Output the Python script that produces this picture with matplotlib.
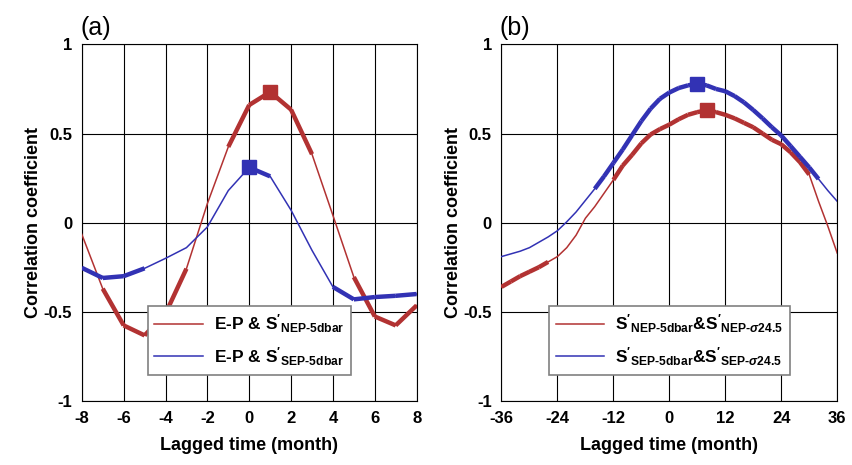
import matplotlib
matplotlib.use("Agg")
import matplotlib.pyplot as plt
import numpy as np

plt.rcParams['font.family'] = ['Liberation Sans', 'DejaVu Sans']
plt.rcParams['axes.unicode_minus'] = False
plt.rcParams['mathtext.fontset'] = 'custom'
plt.rcParams['mathtext.rm'] = 'Liberation Sans:bold'
plt.rcParams['mathtext.bf'] = 'Liberation Sans:bold'
plt.rcParams['mathtext.it'] = 'Liberation Sans:italic:bold'
plt.rcParams['mathtext.sf'] = 'Liberation Sans:bold'

RED = '#B23232'
BLUE = '#3232B4'

# panel (a): E-P vs surface salinity, lag in months
lag_a = [-8, -7, -6, -5, -4, -3, -2, -1, 0, 1, 2, 3, 4, 5, 6, 7, 8]
nep_a = [-0.065, -0.37, -0.576, -0.632, -0.51, -0.258, 0.107, 0.425, 0.66, 0.733,
         0.634, 0.384, 0.041, -0.305, -0.526, -0.576, -0.464]
sep_a = [-0.253, -0.31, -0.30, -0.256, -0.20, -0.14, -0.024, 0.18, 0.31, 0.26,
         0.07, -0.155, -0.36, -0.43, -0.417, -0.41, -0.40]
thr_a = 0.25

# panel (b): 5dbar vs sigma24.5 salinity
lag_b = list(range(-36, 37, 2))
nep_b = [-0.36, -0.33, -0.30, -0.275, -0.25, -0.22, -0.19, -0.14, -0.07, 0.025,
         0.09, 0.165, 0.24, 0.32, 0.38, 0.445, 0.495, 0.525, 0.55, 0.58,
         0.605, 0.62, 0.63, 0.62, 0.605, 0.585, 0.56, 0.535, 0.50, 0.465,
         0.44, 0.395, 0.34, 0.27, 0.12, -0.02, -0.17]
sep_b = [-0.19, -0.175, -0.16, -0.14, -0.11, -0.08, -0.045, 0.005, 0.06, 0.125,
         0.19, 0.26, 0.335, 0.41, 0.49, 0.57, 0.64, 0.695, 0.73, 0.755,
         0.77, 0.78, 0.77, 0.75, 0.737, 0.71, 0.675, 0.632, 0.585, 0.535,
         0.489, 0.43, 0.37, 0.31, 0.245, 0.18, 0.12]
# significant ranges (thick line) in panel (b)
sig_nep_b = [(-36, -26), (-12, 30)]
sig_sep_b = [(-16, 32)]

yticks = [-1, -0.5, 0, 0.5, 1]
yticklabels = ['-1', '-0.5', '0', '0.5', '1']
xticks_a = [-8, -6, -4, -2, 0, 2, 4, 6, 8]
xticks_b = [-36, -24, -12, 0, 12, 24, 36]

label_a = [r"E-P & $\mathrm{S}'_{\mathrm{NEP\text{-}5dbar}}$",
           r"E-P & $\mathrm{S}'_{\mathrm{SEP\text{-}5dbar}}$"]
label_b = [r"$\mathrm{S}'_{\mathrm{NEP\text{-}5dbar}}$&$\mathrm{S}'_{\mathrm{NEP\text{-}}\mathit{\sigma}\mathrm{24.5}}$",
           r"$\mathrm{S}'_{\mathrm{SEP\text{-}5dbar}}$&$\mathrm{S}'_{\mathrm{SEP\text{-}}\mathit{\sigma}\mathrm{24.5}}$"]


def draw_series(ax, x, y, sig, color, label):
    x = np.array(x, dtype=float)
    y = np.array(y, dtype=float)
    ax.plot(x, y, color=color, lw=1.1, label=label, zorder=3)
    # thick segments where both ends significant
    for i in range(len(x) - 1):
        if sig[i] and sig[i + 1]:
            ax.plot(x[i:i + 2], y[i:i + 2], color=color, lw=3.2,
                    solid_capstyle='butt', zorder=3)
    k = np.argmax(y)
    ax.plot(x[k], y[k], 's', color=color, ms=10, zorder=4)


def setup(ax, xticks, xlim, panel):
    ax.set_xlim(xlim)
    ax.set_ylim(-1, 1)
    ax.set_xticks(xticks)
    ax.set_xticklabels([str(v) for v in xticks], fontweight='bold', fontsize=12)
    ax.set_yticks(yticks)
    ax.set_yticklabels(yticklabels, fontweight='bold', fontsize=12)
    ax.tick_params(length=0, pad=7)
    ax.grid(True, color='black', lw=0.8)
    ax.set_axisbelow(True)
    for s in ax.spines.values():
        s.set_color('black')
        s.set_linewidth(0.8)
    ax.set_xlabel('Lagged time (month)', fontsize=13, fontweight='bold', labelpad=8)
    ax.set_ylabel('Correlation coefficient', fontsize=13, fontweight='bold', labelpad=1)
    ax.text(-0.005, 1.012, panel, transform=ax.transAxes, fontsize=18,
            va='bottom', ha='left')
    leg = ax.legend(loc='lower center', bbox_to_anchor=(0.5, 0.05), fontsize=12.5,
                    fancybox=False, framealpha=1, edgecolor='#808080',
                    handlelength=2.8, borderpad=0.4, labelspacing=0.55,
                    handletextpad=0.6)
    leg.get_frame().set_linewidth(1.2)
    for t in leg.get_texts():
        t.set_fontweight('bold')


fig = plt.figure(figsize=(8.52, 4.65), dpi=100)
ax1 = fig.add_axes([0.096, 0.1376, 0.393, 0.767])
ax2 = fig.add_axes([0.5886, 0.1376, 0.394, 0.767])

draw_series(ax1, lag_a, nep_a, [abs(v) > thr_a for v in nep_a], RED, label_a[0])
draw_series(ax1, lag_a, sep_a, [abs(v) > thr_a for v in sep_a], BLUE, label_a[1])
setup(ax1, xticks_a, (-8, 8), '(a)')


def in_ranges(x, ranges):
    return [any(a <= v <= b for a, b in ranges) for v in x]


draw_series(ax2, lag_b, nep_b, in_ranges(lag_b, sig_nep_b), RED, label_b[0])
draw_series(ax2, lag_b, sep_b, in_ranges(lag_b, sig_sep_b), BLUE, label_b[1])
setup(ax2, xticks_b, (-36, 36), '(b)')

fig.savefig('out.png', dpi=100)
